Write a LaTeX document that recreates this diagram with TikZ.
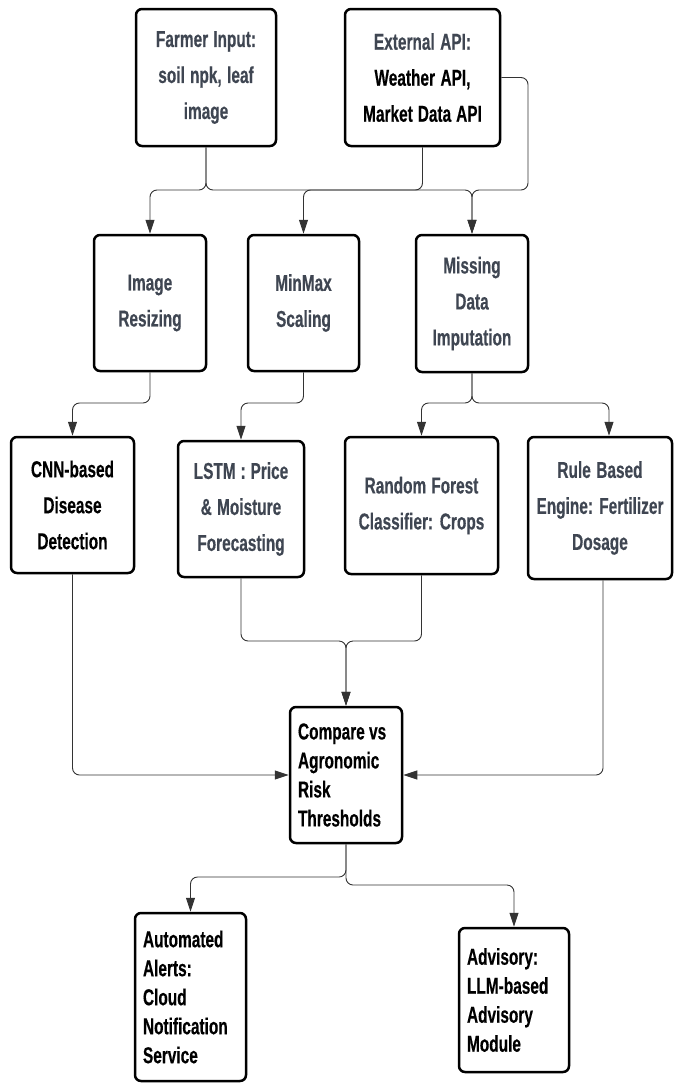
\documentclass[tikz,border=0pt]{standalone}
\usepackage{fontspec}
\newfontfamily\cf[FakeStretch=0.67, FakeBold=0.4]{Liberation Sans}
\usetikzlibrary{arrows.meta}
\definecolor{tgray}{HTML}{3F4652}
\definecolor{lgray}{HTML}{333333}
\newcommand\ws{\spaceskip=0pt\relax\xspaceskip=0pt\relax}
\tikzset{
  box/.style={draw=black, line width=2.5pt, rounded corners=6pt, fill=white,
    inner xsep=3pt, inner ysep=0pt, align=center, text=tgray,
    font=\cf\bfseries\fontsize{23}{36}\selectfont},
  lbox/.style={box, align=left, inner xsep=8pt, text=black,
    font=\cf\bfseries\fontsize{23}{29}\selectfont},
  conn/.style={draw=lgray, line width=0.9pt, rounded corners=7pt,
    -{Triangle[length=14pt,width=9pt]}}
}
\begin{document}
\begin{tikzpicture}[x=1pt,y=-1pt]
\useasboundingbox (0,0) rectangle (675,1084);
% row 1
\node[box, text width=134pt, minimum height=137pt] (farmer) at (206,77.5) {\ws Farmer Input:\\soil npk, leaf\\image};
\node[box, text width=149pt, minimum height=137pt] (ext) at (422.5,77.5) {\ws External API:\\\textcolor{black}{Weather API,}\\\textcolor{black}{Market Data API}};
% row 2
\node[box, text width=106pt, minimum height=136pt] (resize) at (150,303) {\ws Image\\Resizing};
\node[box, text width=105pt, minimum height=136pt] (minmax) at (303.5,303) {\ws MinMax\\Scaling};
\node[box, text width=106pt, minimum height=137pt] (missing) at (472,303.5) {\ws Missing\\Data\\Imputation};
% row 3
\node[box, text width=117pt, minimum height=136pt, text=black] (cnn) at (72.5,505) {\ws CNN-based\\Disease\\Detection};
\node[box, text width=120pt, minimum height=136pt] (lstm) at (241,509) {\ws LSTM : Price\\\& Moisture\\Forecasting};
\node[box, text width=147pt, minimum height=137pt] (rf) at (421.5,505.5) {\ws Random Forest\\Classifier: Crops};
\node[box, text width=138pt, minimum height=142pt] (rule) at (600,508) {\ws Rule Based\\Engine: Fertilizer\\Dosage};
% row 4
\node[lbox, text width=96pt, minimum height=136pt] (compare) at (346,775) {\ws Compare vs\\Agronomic\\Risk\\Thresholds};
% row 5
\node[lbox, text width=95pt, minimum height=168pt] (alerts) at (190.5,997) {\ws Automated\\Alerts:\\Cloud\\Notification\\Service};
\node[lbox, text width=94pt, minimum height=144pt] (advisory) at (514,1000) {\ws Advisory:\\LLM-based\\Advisory\\Module};
% junction levels
\coordinate (jA) at (0,190);
\coordinate (jB) at (0,403);
\coordinate (jC) at (0,641);
\coordinate (jD) at (0,877);
\coordinate (jE) at (0,885);
\coordinate (extR) at (528,190);
\coordinate (ruleIn) at ([xshift=9pt]rule.north);
\coordinate (ruleOut) at ([xshift=3pt]rule.south);
% connectors row1 -> row2
\draw[conn] (farmer.south) |- (jA -| resize.north) -- (resize.north);
\draw[conn] (farmer.south) |- (jA -| missing.north) -- (missing.north);
\draw[conn] (ext.south) |- (jA -| minmax.north) -- (minmax.north);
\draw[conn] (ext.east) -| (extR) -- (jA -| missing.north) -- (missing.north);
% row2 -> row3
\draw[conn] (resize.south) |- (jB -| cnn.north) -- (cnn.north);
\draw[conn] (minmax.south) |- (jB -| lstm.north) -- (lstm.north);
\draw[conn] (missing.south) |- (jB -| rf.north) -- (rf.north);
\draw[conn] (missing.south) |- (jB -| ruleIn) -- (ruleIn);
% row3 -> compare
\draw[conn] (cnn.south) |- (compare.west);
\draw[conn] (ruleOut) |- (compare.east);
\draw[conn] (lstm.south) |- (jC -| compare.north) -- (compare.north);
\draw[conn] (rf.south) |- (jC -| compare.north) -- (compare.north);
% compare -> outputs
\draw[conn] (compare.south) |- (jD -| alerts.north) -- (alerts.north);
\draw[conn] (compare.south) |- (jE -| advisory.north) -- (advisory.north);
\end{tikzpicture}
\end{document}
